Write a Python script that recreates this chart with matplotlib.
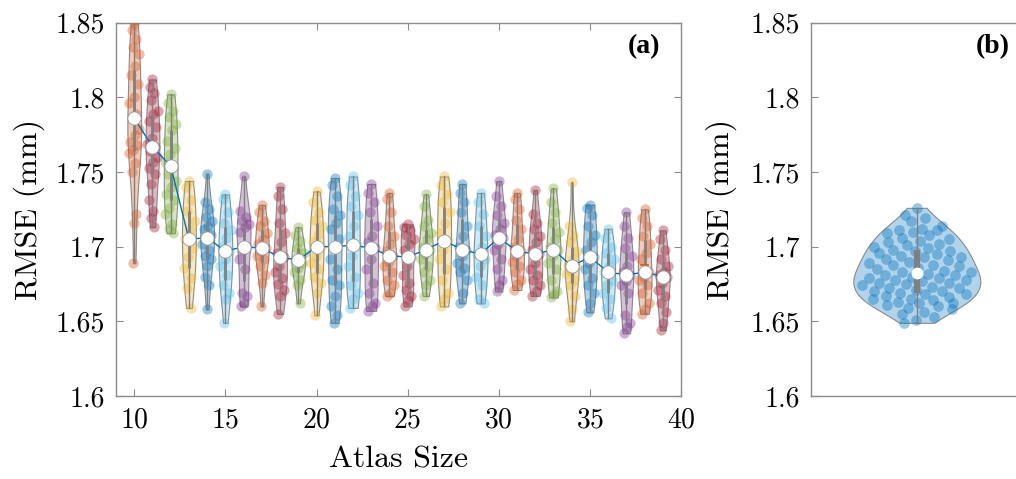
import numpy as np
import matplotlib
matplotlib.use("Agg")
import matplotlib.pyplot as plt
from matplotlib import mlab
from matplotlib.ticker import FuncFormatter

plt.rcParams["font.family"] = "serif"
plt.rcParams["font.serif"] = ["cmr10"]
plt.rcParams["mathtext.fontset"] = "cm"
plt.rcParams["axes.formatter.use_mathtext"] = True

# RMSE (mm) per atlas size
rmse_10 = [1.849, 1.845, 1.839, 1.834, 1.829, 1.821, 1.815, 1.809, 1.800, 1.796, 1.789, 1.786,
           1.779, 1.775, 1.770, 1.768, 1.765, 1.763, 1.756, 1.750, 1.722, 1.716, 1.689]
rmse_11 = [1.812, 1.807, 1.803, 1.798, 1.791, 1.789, 1.784, 1.780, 1.773, 1.769, 1.767,
           1.764, 1.760, 1.757, 1.753, 1.749, 1.742, 1.731, 1.724, 1.719, 1.713]
rmse_12 = [1.802, 1.796, 1.791, 1.787, 1.782, 1.778, 1.771, 1.766, 1.762, 1.757, 1.754,
           1.749, 1.744, 1.740, 1.735, 1.731, 1.726, 1.722, 1.715, 1.712, 1.709]
rmse_13 = [1.744, 1.740, 1.731, 1.724, 1.717, 1.711, 1.705, 1.699, 1.693, 1.686, 1.679, 1.672, 1.659]
rmse_14 = [1.749, 1.730, 1.725, 1.720, 1.717, 1.714, 1.712, 1.708, 1.706, 1.702, 1.698, 1.694,
           1.692, 1.687, 1.680, 1.674, 1.658]
rmse_15 = [1.735, 1.732, 1.723, 1.716, 1.711, 1.706, 1.700, 1.697, 1.692, 1.687, 1.681, 1.674,
           1.669, 1.665, 1.649]
rmse_16 = [1.747, 1.724, 1.720, 1.717, 1.715, 1.713, 1.710, 1.700, 1.698, 1.692, 1.685, 1.669,
           1.667, 1.662, 1.660]
rmse_17 = [1.728, 1.723, 1.717, 1.714, 1.709, 1.705, 1.702, 1.699, 1.697, 1.694, 1.692, 1.687,
           1.681, 1.676, 1.660]
rmse_18 = [1.740, 1.734, 1.725, 1.716, 1.709, 1.703, 1.696, 1.693, 1.687, 1.683, 1.679, 1.675,
           1.671, 1.667, 1.655]
rmse_19 = [1.713, 1.708, 1.704, 1.699, 1.696, 1.693, 1.691, 1.689, 1.686, 1.683, 1.678, 1.674, 1.662]
rmse_20 = [1.737, 1.730, 1.723, 1.718, 1.714, 1.708, 1.703, 1.700, 1.694, 1.689, 1.685, 1.680,
           1.676, 1.669, 1.654]
rmse_21 = [1.746, 1.741, 1.734, 1.725, 1.721, 1.716, 1.712, 1.705, 1.700, 1.692, 1.685, 1.678,
           1.674, 1.667, 1.660, 1.654, 1.649]
rmse_22 = [1.747, 1.741, 1.734, 1.727, 1.721, 1.714, 1.707, 1.701, 1.694, 1.687, 1.680, 1.674,
           1.669, 1.665, 1.659]
rmse_23 = [1.742, 1.736, 1.730, 1.723, 1.714, 1.707, 1.703, 1.699, 1.692, 1.685, 1.676, 1.669,
           1.662, 1.660, 1.657]
rmse_24 = [1.736, 1.732, 1.723, 1.714, 1.707, 1.702, 1.697, 1.694, 1.690, 1.687, 1.683, 1.678,
           1.674, 1.669, 1.667]
rmse_25 = [1.715, 1.713, 1.711, 1.708, 1.705, 1.702, 1.698, 1.693, 1.687, 1.681, 1.676, 1.671,
           1.667, 1.664, 1.660]
rmse_26 = [1.735, 1.727, 1.718, 1.714, 1.709, 1.705, 1.700, 1.698, 1.695, 1.692, 1.687, 1.683,
           1.678, 1.674, 1.667]
rmse_27 = [1.747, 1.741, 1.735, 1.730, 1.723, 1.716, 1.709, 1.704, 1.698, 1.692, 1.685, 1.678,
           1.669, 1.665, 1.660]
rmse_28 = [1.742, 1.736, 1.730, 1.723, 1.714, 1.707, 1.700, 1.698, 1.694, 1.689, 1.686, 1.683,
           1.678, 1.669, 1.662]
rmse_29 = [1.736, 1.730, 1.722, 1.714, 1.707, 1.700, 1.695, 1.692, 1.687, 1.680, 1.674, 1.665, 1.662]
rmse_30 = [1.744, 1.734, 1.727, 1.721, 1.716, 1.712, 1.708, 1.706, 1.702, 1.698, 1.692, 1.685,
           1.678, 1.674, 1.670]
rmse_31 = [1.736, 1.732, 1.725, 1.718, 1.712, 1.705, 1.700, 1.697, 1.694, 1.690, 1.687, 1.683,
           1.678, 1.675, 1.671]
rmse_32 = [1.738, 1.722, 1.716, 1.712, 1.707, 1.703, 1.698, 1.695, 1.689, 1.685, 1.681, 1.678,
           1.674, 1.670, 1.667]
rmse_33 = [1.739, 1.730, 1.723, 1.716, 1.710, 1.705, 1.700, 1.698, 1.694, 1.689, 1.685, 1.678,
           1.670, 1.668, 1.666]
rmse_34 = [1.743, 1.714, 1.708, 1.703, 1.697, 1.692, 1.688, 1.687, 1.684, 1.682, 1.678, 1.674,
           1.667, 1.658, 1.650]
rmse_35 = [1.728, 1.726, 1.721, 1.714, 1.708, 1.703, 1.698, 1.693, 1.689, 1.685, 1.679, 1.674,
           1.669, 1.662, 1.656]
rmse_36 = [1.712, 1.706, 1.700, 1.696, 1.692, 1.687, 1.683, 1.678, 1.674, 1.669, 1.665, 1.659, 1.652]
rmse_37 = [1.723, 1.714, 1.706, 1.699, 1.694, 1.687, 1.683, 1.681, 1.677, 1.674, 1.669, 1.654,
           1.649, 1.646, 1.642]
rmse_38 = [1.725, 1.719, 1.714, 1.707, 1.702, 1.696, 1.692, 1.683, 1.680, 1.678, 1.674, 1.669,
           1.662, 1.658, 1.655]
rmse_39 = [1.711, 1.705, 1.698, 1.692, 1.687, 1.683, 1.681, 1.680, 1.676, 1.671, 1.667, 1.662,
           1.656, 1.649, 1.644]

atlas_sizes = list(range(10, 40))
groups = [rmse_10, rmse_11, rmse_12, rmse_13, rmse_14, rmse_15, rmse_16, rmse_17, rmse_18,
          rmse_19, rmse_20, rmse_21, rmse_22, rmse_23, rmse_24, rmse_25, rmse_26, rmse_27,
          rmse_28, rmse_29, rmse_30, rmse_31, rmse_32, rmse_33, rmse_34, rmse_35, rmse_36,
          rmse_37, rmse_38, rmse_39]

# panel (b): single distribution
rmse_b = [1.726, 1.721, 1.719,
          1.717, 1.714, 1.712, 1.711, 1.711, 1.710,
          1.709, 1.708, 1.706, 1.705, 1.704, 1.703, 1.702, 1.701, 1.700,
          1.699, 1.698, 1.697, 1.697, 1.696, 1.695, 1.694, 1.693, 1.693, 1.692, 1.691, 1.690,
          1.689, 1.688, 1.688, 1.687, 1.686, 1.685, 1.684, 1.683, 1.683, 1.682, 1.681, 1.681, 1.680,
          1.679, 1.679, 1.678, 1.678, 1.677, 1.676, 1.676, 1.675, 1.674, 1.673, 1.672, 1.672,
          1.671, 1.670, 1.670, 1.669, 1.668, 1.668, 1.667, 1.666, 1.665, 1.665, 1.664, 1.663,
          1.662, 1.662, 1.661, 1.660, 1.659, 1.658, 1.656, 1.655, 1.653, 1.651, 1.649]

palette = [(0.850, 0.325, 0.098), (0.635, 0.078, 0.184), (0.466, 0.674, 0.188),
           (0.929, 0.694, 0.125), (0.000, 0.447, 0.741), (0.301, 0.745, 0.933),
           (0.494, 0.184, 0.556)]
GRAY = (0.5, 0.5, 0.5)
AXCOL = (0.55, 0.55, 0.55)
TAG_FONT = ["Liberation Serif", "DejaVu Serif"]


def draw_violin(ax, pos, vals, color, half_width, dot_size, box_lw, show_mean=True):
    vals = np.asarray(vals)
    kde = mlab.GaussianKDE(vals)
    ys = np.linspace(vals.min(), vals.max(), 120)
    dens = kde.evaluate(ys)
    dens = dens / dens.max() * half_width
    ax.fill_betweenx(ys, pos - dens, pos + dens, facecolor=(*color, 0.3),
                     edgecolor=(0.45, 0.45, 0.45, 0.8), lw=0.8, zorder=2)
    # deterministic jitter inside the violin outline
    d_pts = np.interp(vals, ys, dens)
    u = (0.5 + np.arange(len(vals)) * 0.6180339887) % 1.0
    ax.scatter(pos + (2 * u - 1) * d_pts * 0.9, vals, s=dot_size, color=color,
               alpha=0.38, lw=0, zorder=3)
    q1, med, q3 = np.percentile(vals, [25, 50, 75])
    ax.plot([pos, pos], [vals.min(), vals.max()], color=GRAY, lw=1, zorder=4)
    ax.plot([pos, pos], [q1, q3], color=GRAY, lw=box_lw, solid_capstyle="butt", zorder=4)
    if show_mean:
        m = vals.mean()
        ax.plot([pos - 0.2, pos + 0.2], [m, m], color=color, lw=1.2, zorder=4)
    return med


def style_axes(ax):
    for s in ax.spines.values():
        s.set_color(AXCOL)
        s.set_linewidth(1.0)
    ax.tick_params(direction="in", length=5, width=0.8, color=AXCOL, labelsize=20,
                   top=True, right=True, pad=8)
    ax.set_ylim(1.6, 1.85)
    ax.set_yticks([1.6, 1.65, 1.7, 1.75, 1.8, 1.85])
    ax.yaxis.set_major_formatter(FuncFormatter(lambda v, p: f"{v:g}"))


fig = plt.figure(figsize=(10.16, 4.79), dpi=100)
ax_a = fig.add_axes([0.1142, 0.1733, 0.5561, 0.7793])
ax_b = fig.add_axes([0.7982, 0.1733, 0.25, 0.7793])

medians = []
for i, (pos, vals) in enumerate(zip(atlas_sizes, groups)):
    medians.append(draw_violin(ax_a, pos, vals, palette[i % 7], 0.38, 55, 2))
ax_a.plot(atlas_sizes, medians, color=(0.0, 0.447, 0.741), lw=1, zorder=5)
ax_a.plot(atlas_sizes, medians, "o", ms=9.5, mfc="white", mec=(0.6, 0.6, 0.6), mew=0.6, zorder=6)

style_axes(ax_a)
ax_a.set_xlim(9, 40)
ax_a.set_xticks([10, 15, 20, 25, 30, 35, 40])
ax_a.set_xlabel("Atlas Size", fontsize=23, labelpad=9)
ax_a.set_ylabel("RMSE (mm)", fontsize=23)
ax_a.yaxis.set_label_coords(-0.125, 0.5)
ax_a.text(0.935, 0.935, "(a)", transform=ax_a.transAxes, ha="center", va="center",
          fontsize=20, fontweight="bold", family=TAG_FONT)

med_b = draw_violin(ax_b, 1.0, rmse_b, palette[4], 0.6, 60, 4.5, show_mean=False)
ax_b.plot([1.0], [med_b], "o", ms=7.5, mfc="white", mec="white", zorder=6)
style_axes(ax_b)
ax_b.set_xlim(0, 2.4)
ax_b.set_xticks([])
ax_b.tick_params(axis="x", length=0)
ax_b.set_ylabel("RMSE (mm)", fontsize=23)
ax_b.yaxis.set_label_coords(-0.29, 0.5)
ax_b.text(0.717, 0.935, "(b)", transform=ax_b.transAxes, ha="center", va="center",
          fontsize=20, fontweight="bold", family=TAG_FONT)

fig.savefig("out.png", dpi=100)
